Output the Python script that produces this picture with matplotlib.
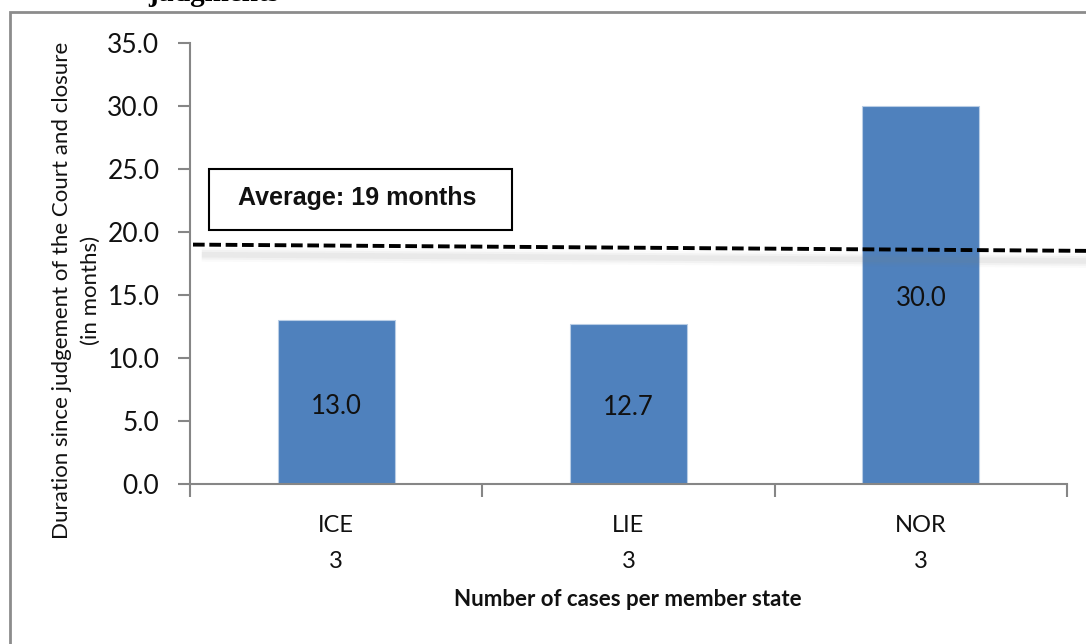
import matplotlib
matplotlib.use("Agg")
import matplotlib.pyplot as plt
from matplotlib.patches import Rectangle
from matplotlib.transforms import offset_copy

# ---- data ----
states = ["ICE", "LIE", "NOR"]
cases = [3, 3, 3]
durations = [13.0, 12.7, 30.0]
average_label = "Average: 19 months"
avg_line = [19.0, 18.5]   # dashed average line (left end, right end)
y_ticks = [0, 5, 10, 15, 20, 25, 30, 35]

W, H = 1086, 644
fig = plt.figure(figsize=(W / 100, H / 100), dpi=100)
fig.patch.set_facecolor("white")

def fx(px):
    return px / W

def fy(py):
    return 1 - py / H

ax = fig.add_axes([fx(190), fy(484), fx(1067) - fx(190), fy(43) - fy(484)])
ax.set_facecolor("none")

bar_color = "#4f81bd"
x = list(range(len(states)))
bars = ax.bar(x, durations, width=0.4, color=bar_color, edgecolor="#b9cde5", linewidth=0.8, zorder=2)

lbl_tr = offset_copy(ax.transData, fig=fig, x=0, y=-4, units="dots")
for xi, v in zip(x, durations):
    ax.text(xi, v / 2, f"{v:.1f}", ha="center", va="center", fontsize=18.5,
            family="Lato", color="#111111", zorder=5, transform=lbl_tr)

ax.set_xlim(-0.5, len(states) - 0.5)
ax.set_ylim(0, 35)
ax.set_yticks(y_ticks)
ax.set_yticklabels([f"{t:.1f}" for t in y_ticks], family="Lato", fontsize=19, color="#111111")
ax.set_xticks(x)
ax.set_xticklabels([f"{s}\n{c}" for s, c in zip(states, cases)], family="Lato", fontsize=17,
                   color="#111111", linespacing=1.9)
ax.set_xticks([i - 0.5 for i in range(len(states) + 1)], minor=True)
ax.tick_params(axis="x", which="major", length=0, pad=22)
ax.tick_params(axis="x", which="minor", length=9, width=1.5, color="#868686", direction="out")
ax.tick_params(axis="y", which="major", length=9, width=1.5, color="#868686", direction="out", pad=13)

for s in ["top", "right"]:
    ax.spines[s].set_visible(False)
for s in ["left", "bottom"]:
    ax.spines[s].set_color("#868686")
    ax.spines[s].set_linewidth(1.5)

# average dashed line with soft shadow
x0 = (193 - 190) / 292.3 - 0.5
x1 = (1090 - 190) / 292.3 - 0.5
for lw, a in [(10, 0.04), (7, 0.06), (4, 0.08)]:
    ax.plot([x0 + 0.03, x1], [avg_line[0] - 0.8, avg_line[1] - 0.8], color="#808080",
            lw=lw, alpha=a, solid_capstyle="butt", clip_on=False, zorder=3)
ax.plot([x0, x1], avg_line, color="black", lw=2.8, dashes=(3.0, 1.2),
        clip_on=False, zorder=4)

# average label box
fig.patches.append(Rectangle((fx(209), fy(230)), fx(512) - fx(209), fy(169) - fy(230),
                             transform=fig.transFigure, fill=True, facecolor="white",
                             edgecolor="black", linewidth=1.5, zorder=6))
fig.text(fx(357), fy(198), average_label, ha="center", va="center", fontsize=18,
         fontweight="bold", family="Liberation Sans", color="#111111", zorder=7)

# axis labels
fig.text(fx(76), fy(290), "Duration since judgement of the Court and closure\n(in months)",
         rotation=90, ha="center", va="center", multialignment="center",
         fontsize=16, family="Lato", color="#111111", linespacing=1.55)
fig.text(fx(628), fy(599), "Number of cases per member state", ha="center", va="center",
         fontsize=16, fontweight="bold", family="Lato", color="#111111")

# outer border (cropped on right and bottom)
fig.patches.append(Rectangle((fx(10), fy(660)), fx(1100) - fx(10), fy(12) - fy(660),
                             transform=fig.transFigure, fill=False,
                             edgecolor="#8c8c8c", linewidth=2.0, zorder=1))

# cropped heading at the top (cut off in the source image as well)
fig.text(fx(148), fy(1), "judgments", ha="left", va="baseline", fontsize=21,
         fontweight="bold", family="Liberation Serif", color="black")

fig.savefig("out.png", dpi=100)
